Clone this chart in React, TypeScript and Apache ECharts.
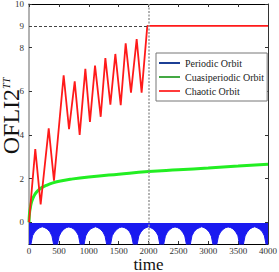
import React, { useEffect, useRef } from "react";
import * as echarts from "echarts";

const xTicks = [0, 500, 1000, 1500, 2000, 2500, 3000, 3500, 4000];
const yLabelValues = [0, 2, 4, 6, 8, 9, 10];
const yTickValues = [0, 2, 4, 6, 8, 10];

const chaoticTime = [0, 105, 195, 330, 418, 580, 670, 765, 848, 943, 1020, 1105, 1200, 1278, 1362, 1445, 1535, 1618, 1707, 1802, 1885, 1980, 4000];
const chaoticValue = [0, 3.35, 0.82, 4.3, 1.9, 6.73, 4.26, 6.45, 4.0, 7.03, 4.6, 7.18, 4.83, 7.52, 5.39, 7.71, 5.36, 8.2, 5.94, 8.39, 5.94, 9.0, 9.0];

const quasiTime = [0, 10, 20, 40, 70, 100, 150, 200, 300, 400, 550, 700, 1000, 1500, 2000, 2500, 3000, 3500, 4000];
const quasiValue = [0, 0.45, 0.62, 0.9, 1.12, 1.28, 1.45, 1.56, 1.7, 1.8, 1.9, 1.97, 2.07, 2.2, 2.32, 2.4, 2.48, 2.57, 2.65];

const periodicTime = [
  0, 30, 60, 95, 140, 180, 222, 264, 304, 349, 384, 414,
  444, 474, 504, 539, 584, 624, 666, 708, 749, 794, 829, 859,
  889, 919, 949, 984, 1029, 1069, 1111, 1153, 1193, 1238, 1273, 1303,
  1333, 1363, 1393, 1428, 1473, 1513, 1555, 1597, 1638, 1683, 1718, 1748,
  1778, 1808, 1838, 1873, 1918, 1958, 2000, 2042, 2082, 2127, 2162, 2192,
  2222, 2252, 2282, 2317, 2362, 2402, 2444, 2486, 2527, 2572, 2607, 2637,
  2667, 2697, 2727, 2762, 2807, 2847, 2889, 2931, 2971, 3016, 3051, 3081,
  3111, 3141, 3171, 3206, 3251, 3291, 3333, 3375, 3416, 3461, 3496, 3526,
  3556, 3586, 3616, 3651, 3696, 3736, 3778, 3820, 3860, 3905, 3940, 3970,
  4000,
];
const periodicLow = [
  -1.1, -1.05, -0.62, -0.45, -0.32, -0.25, -0.21, -0.25, -0.31, -0.44, -0.63, -1.05,
  -1.1, -1.05, -0.64, -0.46, -0.32, -0.25, -0.22, -0.25, -0.31, -0.45, -0.62, -1.05,
  -1.1, -1.05, -0.63, -0.45, -0.31, -0.26, -0.21, -0.25, -0.32, -0.45, -0.64, -1.05,
  -1.1, -1.05, -0.62, -0.46, -0.32, -0.25, -0.22, -0.25, -0.31, -0.44, -0.63, -1.05,
  -1.1, -1.05, -0.63, -0.45, -0.31, -0.25, -0.21, -0.26, -0.32, -0.45, -0.62, -1.05,
  -1.1, -1.05, -0.64, -0.45, -0.32, -0.25, -0.22, -0.25, -0.31, -0.46, -0.63, -1.05,
  -1.1, -1.05, -0.62, -0.44, -0.31, -0.26, -0.21, -0.25, -0.32, -0.45, -0.64, -1.05,
  -1.1, -1.05, -0.63, -0.45, -0.32, -0.25, -0.22, -0.25, -0.31, -0.45, -0.62, -1.05,
  -1.1, -1.05, -0.63, -0.46, -0.31, -0.25, -0.21, -0.26, -0.32, -0.44, -0.63, -1.05,
  -1.1,
];
const periodicTop = -0.04;

const seriesNames = ["Periodic Orbit", "Cuasiperiodic Orbit", "Chaotic Orbit"];
const legendColors = ["#1c3f95", "#44a944", "#ff3b3b"];

const serif = "Liberation Serif";

export default function App() {
  const ref = useRef<HTMLDivElement>(null);
  useEffect(() => {
    if (!ref.current) return;
    const chart = echarts.init(ref.current, undefined, { renderer: "svg" });
    const zip = (a: number[], b: number[]) => a.map((t, i) => [t, b[i]]);
    const axisCommonX = {
      type: "value",
      min: 0,
      max: 4000,
      interval: 500,
      splitLine: { show: false },
      axisLine: { onZero: false, lineStyle: { color: "#000", width: 1 } },
      axisTick: { inside: true, length: 3, lineStyle: { color: "#333" } },
    };
    const axisCommonY = {
      type: "value",
      min: -1,
      max: 10,
      splitLine: { show: false },
      axisTick: { inside: true, length: 3, customValues: yTickValues, lineStyle: { color: "#333" } },
    };
    chart.setOption({
      animation: false,
      textStyle: { fontFamily: serif },
      grid: { left: 29, right: 11, top: 4, bottom: 28, containLabel: false, outerBoundsMode: "none" },
      legend: {
        orient: "vertical",
        left: 156,
        top: 53,
        padding: [4, 3, 4, 3],
        itemWidth: 21,
        itemHeight: 2,
        itemGap: 2,
        icon: "rect",
        backgroundColor: "#fff",
        borderColor: "#777",
        borderWidth: 1,
        textStyle: { fontFamily: serif, fontSize: 10, color: "#222", lineHeight: 12 },
        data: seriesNames.map((n, i) => ({ name: n, itemStyle: { color: legendColors[i] } })),
      },
      xAxis: [
        {
          ...axisCommonX,
          position: "bottom",
          name: "time",
          nameLocation: "middle",
          nameGap: 12,
          nameMoveOverlap: false,
          nameTextStyle: { fontFamily: serif, fontSize: 17, color: "#111", verticalAlign: "top", lineHeight: 16 },
          axisLabel: {
            fontFamily: serif,
            fontSize: 9,
            lineHeight: 8,
            color: "#333",
            margin: 3,
            formatter: (v: number) => String(v),
          },
        },
        {
          ...axisCommonX,
          position: "top",
          axisLabel: { show: false },
        },
      ],
      yAxis: [
        {
          ...axisCommonY,
          position: "left",
          axisLine: { onZero: false, lineStyle: { color: "#999", width: 1.5 } },
          name: "{a|OFLI2}{b|TT}",
          nameLocation: "middle",
          nameGap: 8,
          nameMoveOverlap: false,
          nameTextStyle: {
            rich: {
              a: { fontFamily: serif, fontSize: 24, color: "#111", lineHeight: 20, padding: [0, 0, 0, 16] },
              b: { fontFamily: serif, fontSize: 10, fontStyle: "italic", color: "#111", lineHeight: 20, verticalAlign: "top" },
            },
          },
          axisLabel: {
            fontFamily: serif,
            fontSize: 9,
            color: "#333",
            margin: 5,
            customValues: yLabelValues,
            formatter: (v: number) => String(v),
          },
        },
        {
          ...axisCommonY,
          position: "right",
          axisLine: { onZero: false, lineStyle: { color: "#333", width: 1 } },
          axisLabel: { show: false },
        },
      ],
      series: [
        {
          name: seriesNames[0],
          type: "line",
          data: zip(periodicTime, periodicLow),
          showSymbol: false,
          symbol: "none",
          lineStyle: { color: "#1a1af0", width: 1 },
          itemStyle: { color: "#1a1af0" },
          areaStyle: { color: "#1a1af0", opacity: 1, origin: periodicTop },
          z: 2,
        },
        {
          name: seriesNames[1],
          type: "line",
          data: zip(quasiTime, quasiValue),
          smooth: true,
          showSymbol: false,
          symbol: "none",
          lineStyle: { color: "#22ee22", width: 3 },
          itemStyle: { color: "#22ee22" },
          z: 3,
        },
        {
          name: seriesNames[2],
          type: "line",
          data: zip(chaoticTime, chaoticValue),
          showSymbol: false,
          symbol: "none",
          lineStyle: { color: "#ff1a1a", width: 1.8 },
          itemStyle: { color: "#ff1a1a" },
          z: 4,
          markLine: {
            silent: true,
            symbol: ["none", "none"],
            label: { show: false },
            data: [
              { xAxis: 2000, lineStyle: { color: "#999", width: 1.5, type: [2, 1.5] } },
              [
                { coord: [0, 9], lineStyle: { color: "#444", width: 1, type: [3, 2] } },
                { coord: [2000, 9] },
              ],
            ],
          },
        },
      ],
    });
    return () => chart.dispose();
  }, []);
  return (
    <div
      ref={ref}
      style={{ position: "absolute", left: 0, top: 0, width: 279, height: 272, background: "#fff" }}
    />
  );
}
